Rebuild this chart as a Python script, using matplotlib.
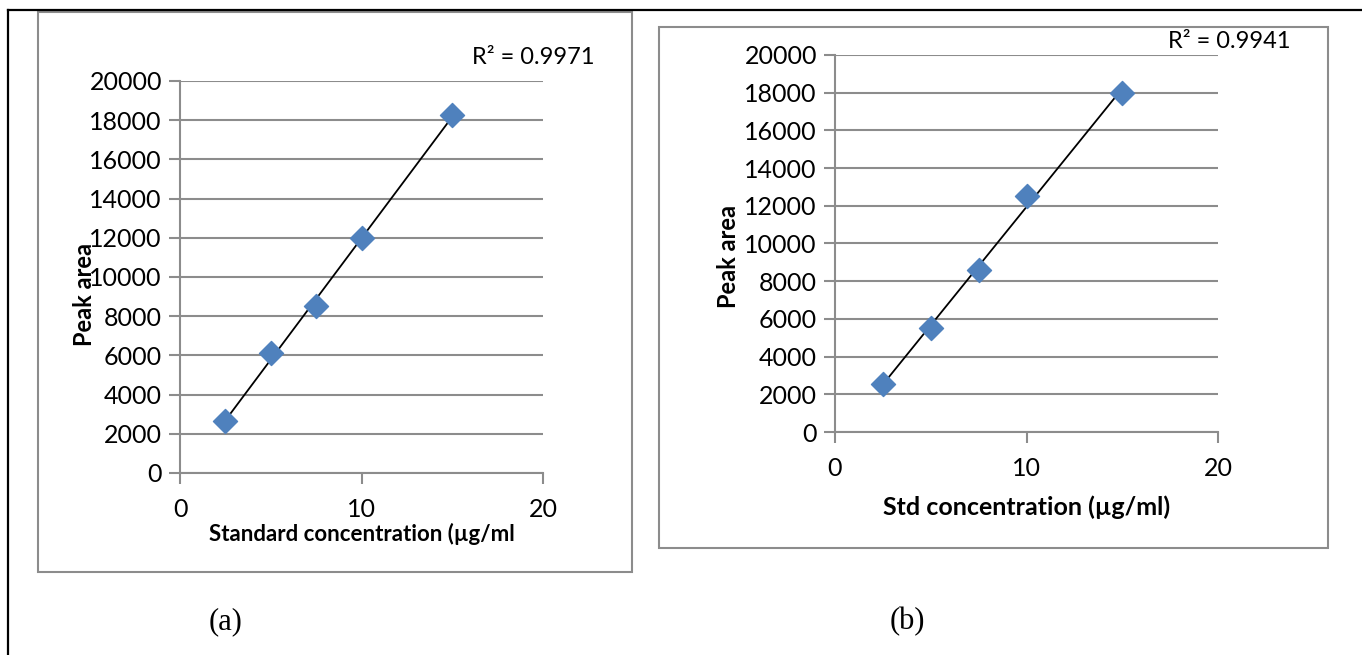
import numpy as np
import matplotlib
matplotlib.use("Agg")
from matplotlib import pyplot as plt
from matplotlib.patches import Rectangle
from matplotlib.lines import Line2D

# calibration data for the two standards
conc_a = [2.5, 5, 7.5, 10, 15]
area_a = [2650, 6100, 8500, 12000, 18250]
conc_b = [2.5, 5, 7.5, 10, 15]
area_b = [2550, 5500, 8600, 12500, 18000]

r2_labels = ["R² = 0.9971", "R² = 0.9941"]
xlabels = ["Standard concentration (µg/ml", "Std concentration (µg/ml)"]
ylabel = "Peak area"
captions = ["(a)", "(b)"]
xticks = [0, 10, 20]
yticks = list(range(0, 20001, 2000))

W, H = 1362, 655
fig = plt.figure(figsize=(W / 100, H / 100), dpi=100)
plt.rcParams['font.family'] = ['Lato', 'DejaVu Sans']

grey = '#8c8c8c'
blue = '#4f81bd'


def px_rect(x0, y0, x1, y1):
    # pixel box (top-left origin) -> figure fraction rect
    return [x0 / W, 1 - y1 / H, (x1 - x0) / W, (y1 - y0) / H]


# page frame lines
fig.add_artist(Line2D([8 / W, 8 / W], [0, 1 - 10 / H], color='black', lw=1.6))
fig.add_artist(Line2D([8 / W, 1], [1 - 10 / H, 1 - 10 / H], color='black', lw=1.6))

# chart boxes
for (x0, y0, x1, y1) in [(38, 12, 632, 572), (659, 27, 1328, 548)]:
    r = px_rect(x0, y0, x1, y1)
    fig.add_artist(Rectangle((r[0], r[1]), r[2], r[3], transform=fig.transFigure,
                             fill=False, edgecolor=grey, lw=1.5))

panels = [
    dict(rect=px_rect(180, 81, 543, 473), x=conc_a, y=area_a, r2=(595, 57),
         ylab=(85, 295), xlab=(362, 534), cap=(226, 622)),
    dict(rect=px_rect(835, 55, 1218, 432), x=conc_b, y=area_b, r2=(1290, 42),
         ylab=(728, 257), xlab=(1027, 507), cap=(907, 622)),
]

for i, p in enumerate(panels):
    ax = fig.add_axes(p['rect'])
    ax.set_xlim(0, 20)
    ax.set_ylim(0, 20000)
    ax.set_xticks(xticks)
    ax.set_yticks(yticks)
    ax.yaxis.grid(True, color=grey, lw=1.5)
    ax.set_axisbelow(True)
    for s in ['top', 'right']:
        ax.spines[s].set_visible(False)
    for s in ['left', 'bottom']:
        ax.spines[s].set_color(grey)
        ax.spines[s].set_linewidth(1.5)
    ax.tick_params(axis='both', direction='out', length=8, width=1.5, color=grey,
                   labelsize=18, pad=5)
    ax.tick_params(axis='x', pad=10)

    x = np.array(p['x'])
    y = np.array(p['y'])
    k, b = np.polyfit(x, y, 1)
    xs = np.array([x.min(), x.max()])
    ax.plot(xs, k * xs + b, color='black', lw=1.3, zorder=3)
    ax.scatter(x, y, marker='D', s=150, color=blue, zorder=4, clip_on=False)

    fig.text(p['r2'][0] / W, 1 - p['r2'][1] / H, r2_labels[i], ha='right', va='center',
             fontsize=17)
    fig.text(p['ylab'][0] / W, 1 - p['ylab'][1] / H, ylabel, rotation=90, ha='center',
             va='center', fontsize=17, fontweight='bold')
    fig.text(p['xlab'][0] / W, 1 - p['xlab'][1] / H, xlabels[i], ha='center', va='center',
             fontsize=18 if i else 16, fontweight='bold')
    fig.text(p['cap'][0] / W, 1 - p['cap'][1] / H, captions[i], ha='center', va='center',
             fontsize=22, family=['Liberation Serif'])

fig.savefig('out.png', dpi=100)
